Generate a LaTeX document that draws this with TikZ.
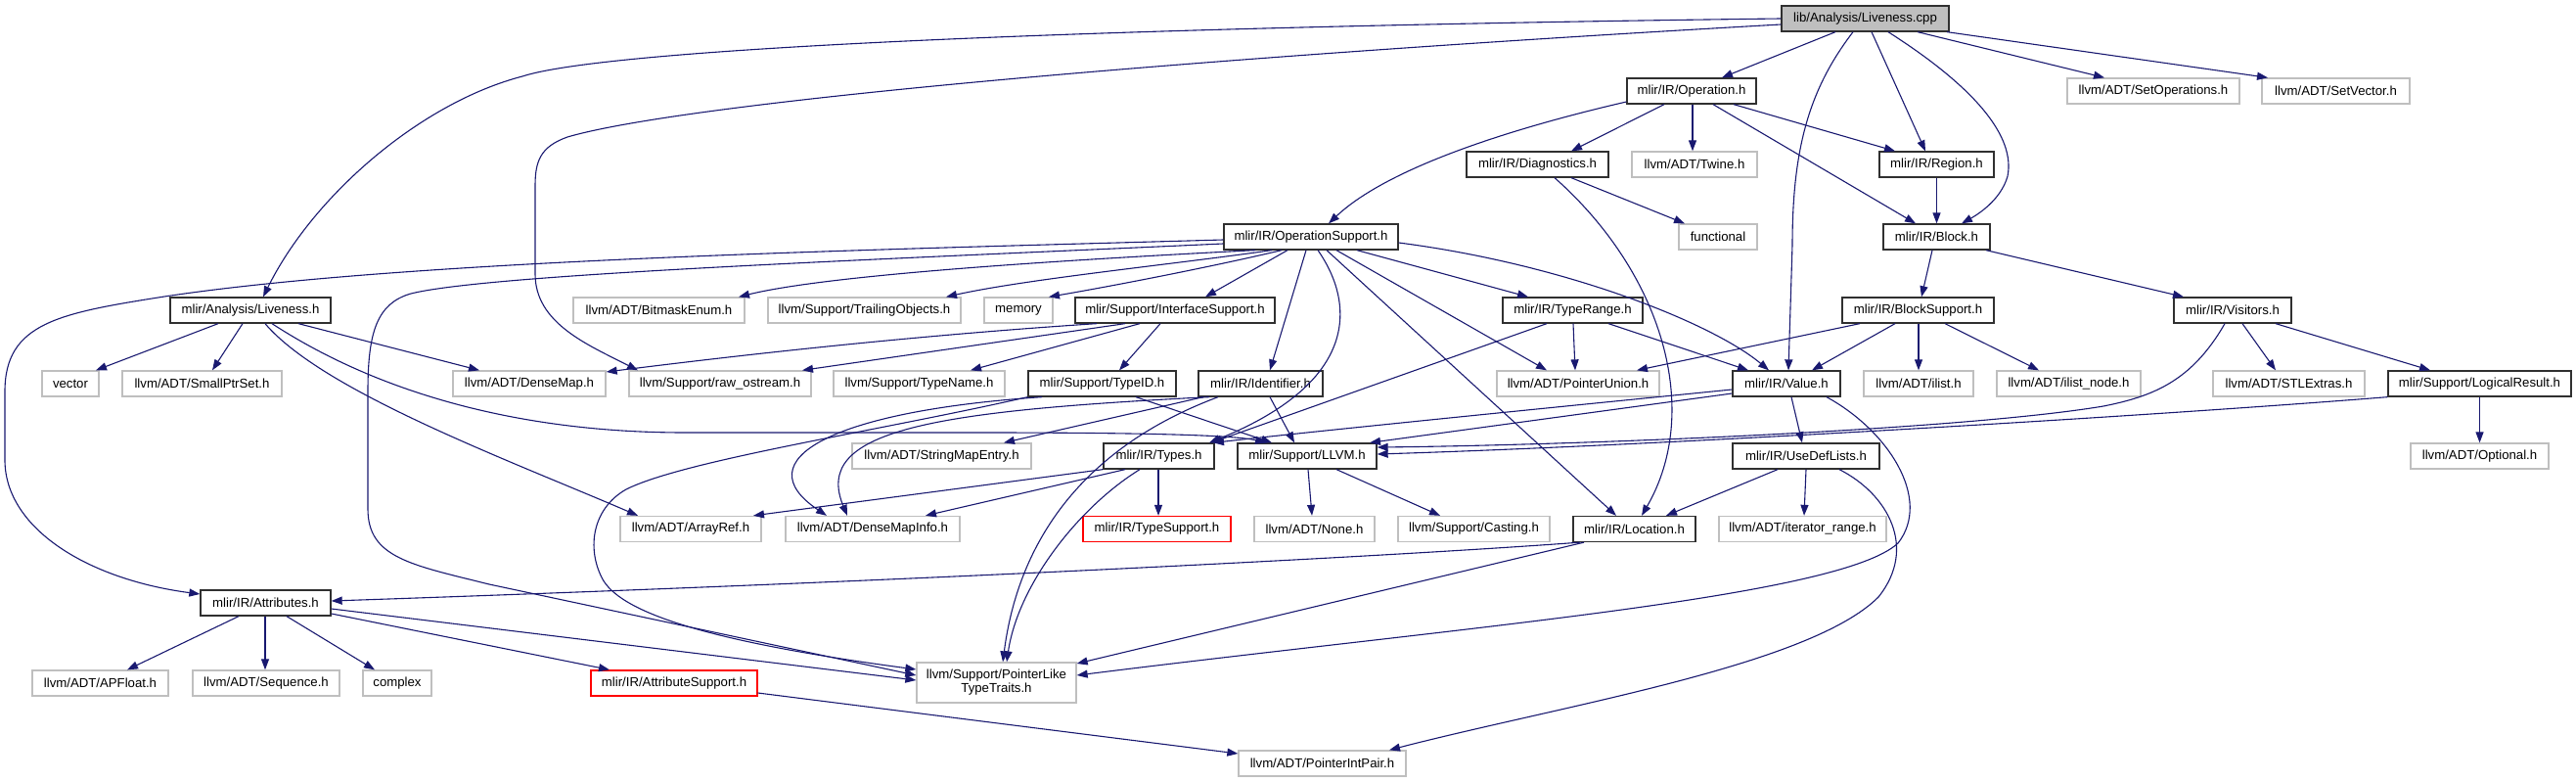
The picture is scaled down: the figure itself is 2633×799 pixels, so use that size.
\documentclass[tikz,border=0pt]{standalone}
\usepackage{fontspec}
\setmainfont{Liberation Sans}
\usetikzlibrary{arrows.meta}
\definecolor{edgec}{HTML}{191970}
\definecolor{grayb}{HTML}{BFBFBF}
\definecolor{docb}{HTML}{303030}
\tikzset{
  base/.style={draw, minimum height=26pt, inner sep=0pt, line width=1.3pt,
    font=\fontsize{13.2}{14}\selectfont, align=center},
  doc/.style={base, draw=docb},
  ext/.style={base, draw=grayb},
  redbox/.style={base, draw=red},
  rootbox/.style={base, draw=docb, fill=grayb},
  dep/.style={draw=edgec, line width=1.1pt, -{Triangle[length=11pt,width=8pt]}}
}
\begin{document}
\begin{tikzpicture}[x=1pt,y=-1pt]
\useasboundingbox (0,0) rectangle (2633,799);
% nodes
\node[rootbox, minimum width=171pt] (root) at (1906.5,19) {lib/Analysis/Liveness.cpp};
\node[doc, minimum width=132pt] (op) at (1729,93) {mlir/IR/Operation.h};
\node[ext, minimum width=176pt] (setops) at (2201,93) {llvm/ADT/SetOperations.h};
\node[ext, minimum width=151pt] (setvec) at (2387.5,93) {llvm/ADT/SetVector.h};
\node[doc, minimum width=145pt] (diag) at (1571.5,168) {mlir/IR/Diagnostics.h};
\node[ext, minimum width=128pt] (twine) at (1732,168) {llvm/ADT/Twine.h};
\node[doc, minimum width=117pt] (region) at (1979.5,168) {mlir/IR/Region.h};
\node[ext, minimum width=80pt] (functional) at (1756,242) {functional};
\node[doc, minimum width=109pt] (block) at (1979.5,242) {mlir/IR/Block.h};
\node[doc, minimum width=178pt] (opsup) at (1340,242) {mlir/IR/OperationSupport.h};
\node[doc, minimum width=164pt] (liveh) at (256,317) {mlir/Analysis/Liveness.h};
\node[ext, minimum width=175pt] (bitmask) at (673.5,317) {llvm/ADT/BitmaskEnum.h};
\node[ext, minimum width=197pt] (trailing) at (883.5,317) {llvm/Support/TrailingObjects.h};
\node[ext, minimum width=70pt] (memory) at (1041,317) {memory};
\node[doc, minimum width=204pt] (ifsup) at (1201,317) {mlir/Support/InterfaceSupport.h};
\node[doc, minimum width=143pt] (typerange) at (1607.5,317) {mlir/IR/TypeRange.h};
\node[doc, minimum width=155pt] (blocksup) at (1960.5,317) {mlir/IR/BlockSupport.h};
\node[doc, minimum width=120pt] (visitors) at (2282,317) {mlir/IR/Visitors.h};
\node[ext, minimum width=58pt] (vector) at (72,392) {vector};
\node[ext, minimum width=163pt] (smallptr) at (206.5,392) {llvm/ADT/SmallPtrSet.h};
\node[ext, minimum width=156pt] (densemap) at (541,392) {llvm/ADT/DenseMap.h};
\node[ext, minimum width=186pt] (rawos) at (736,392) {llvm/Support/raw\_ostream.h};
\node[ext, minimum width=175pt] (typename) at (939.5,392) {llvm/Support/TypeName.h};
\node[doc, minimum width=151pt] (typeid) at (1126.5,392) {mlir/Support/TypeID.h};
\node[doc, minimum width=127pt] (ident) at (1288.5,392) {mlir/IR/Identifier.h};
\node[ext, minimum width=166pt] (ptrunion) at (1613,392) {llvm/ADT/PointerUnion.h};
\node[doc, minimum width=110pt] (value) at (1826,392) {mlir/IR/Value.h};
\node[ext, minimum width=112pt] (ilist) at (1961,392) {llvm/ADT/ilist.h};
\node[ext, minimum width=147pt] (ilistnode) at (2114.5,392) {llvm/ADT/ilist\_node.h};
\node[ext, minimum width=155pt] (stlextras) at (2339.5,392) {llvm/ADT/STLExtras.h};
\node[doc, minimum width=187pt] (logres) at (2534.5,392) {mlir/Support/LogicalResult.h};
\node[ext, minimum width=183pt] (strmap) at (962.5,466) {llvm/ADT/StringMapEntry.h};
\node[doc, minimum width=113pt] (types) at (1184.5,466) {mlir/IR/Types.h};
\node[doc, minimum width=142pt] (llvmh) at (1336,466) {mlir/Support/LLVM.h};
\node[doc, minimum width=150pt] (usedef) at (1846,466) {mlir/IR/UseDefLists.h};
\node[ext, minimum width=141pt] (optional) at (2534.5,466) {llvm/ADT/Optional.h};
\node[ext, minimum width=144pt] (arrayref) at (706,540.5) {llvm/ADT/ArrayRef.h};
\node[ext, minimum width=178pt] (densemapinfo) at (892,540.5) {llvm/ADT/DenseMapInfo.h};
\node[redbox, minimum width=151pt] (typesup) at (1182.5,540.5) {mlir/IR/TypeSupport.h};
\node[ext, minimum width=123pt] (none) at (1343.5,540.5) {llvm/ADT/None.h};
\node[ext, minimum width=155pt] (casting) at (1506.5,540.5) {llvm/Support/Casting.h};
\node[doc, minimum width=125pt] (location) at (1670.5,540.5) {mlir/IR/Location.h};
\node[ext, minimum width=171pt] (iterrange) at (1842.5,540.5) {llvm/ADT/iterator\_range.h};
\node[doc, minimum width=133pt] (attrs) at (271.5,616) {mlir/IR/Attributes.h};
\node[ext, minimum width=139pt] (apfloat) at (102.5,698) {llvm/ADT/APFloat.h};
\node[ext, minimum width=150pt] (sequence) at (272,698) {llvm/ADT/Sequence.h};
\node[ext, minimum width=70pt] (complex) at (406,698) {complex};
\node[redbox, minimum width=170pt] (attrsup) at (689,698) {mlir/IR/AttributeSupport.h};
\node[ext, minimum width=163pt, minimum height=41pt] (pltt) at (1018.5,697.5) {llvm/Support/PointerLike\\TypeTraits.h};
\node[ext, minimum width=171pt] (ptrintpair) at (1351.5,780) {llvm/ADT/PointerIntPair.h};

% root
\draw[dep] (root.west) .. controls (1100,28) and (620,50) .. (534,78) .. controls (430,105) and (320,200) .. (liveh.north -| 269,0);
\draw[dep] (root.west |- 0,25) .. controls (1200,60) and (700,105) .. (580,140) .. controls (552,150) and (547,165) .. (547,190) -- (547,280) .. controls (547,330) and (600,352) .. (rawos.north -| 652,0);
\draw[dep] (root.south -| 1876,0) -- (op.north -| 1760,0);
\draw[dep] (root.south -| 1894,0) .. controls (1850,90) and (1832,150) .. (1832,250) -- (value.north -| 1828,0);
\draw[dep] (root.south -| 1913,0) -- (region.north -| 1968,0);
\draw[dep] (root.south -| 1930,0) .. controls (2020,90) and (2060,140) .. (2052,180) .. controls (2045,205) and (2020,220) .. (block.north -| 2005,0);
\draw[dep] (root.south -| 1960,0) -- (setops.north -| 2151,0);
\draw[dep] (root.south -| 1990,0) -- (setvec.north -| 2318,0);
% operation
\draw[dep] (op.west |- 0,104) .. controls (1550,130) and (1420,170) .. (opsup.north -| 1358,0);
\draw[dep] (op.south -| 1701,0) -- (diag.north -| 1606,0);
\draw[dep] (op.south -| 1730,0) -- (twine.north -| 1730,0);
\draw[dep] (op.south -| 1772,0) -- (region.north -| 1937,0);
\draw[dep] (op.south -| 1751,0) -- (block.north -| 1958,0);
% diagnostics
\draw[dep] (diag.south -| 1606,0) -- (functional.north -| 1722,0);
\draw[dep] (diag.south -| 1589,0) .. controls (1700,280) and (1740,420) .. (location.north -| 1678,0);
% region, block
\draw[dep] (region.south) -- (block.north);
\draw[dep] (block.south -| 1975,0) -- (blocksup.north -| 1964,0);
\draw[dep] (block.south -| 2030,0) -- (visitors.north -| 2232,0);
% operation support
\draw[dep] (opsup.west |- 0,245) .. controls (900,255) and (420,265) .. (168,303) .. controls (60,320) and (5,330) .. (5,400) -- (5,470) .. controls (5,540) and (90,592) .. (attrs.west |- 0,607);
\draw[dep] (opsup.west |- 0,249) .. controls (900,265) and (500,280) .. (420,300) .. controls (385,310) and (376,340) .. (376,400) -- (376,520) .. controls (376,570) and (420,577) .. (500,597) -- (pltt.west |- 0,690);
\draw[dep] (opsup.south -| 1283,0) .. controls (1100,265) and (850,280) .. (bitmask.north -| 755,0);
\draw[dep] (opsup.south -| 1300,0) .. controls (1200,270) and (1050,285) .. (trailing.north -| 967,0);
\draw[dep] (opsup.south -| 1310,0) .. controls (1250,270) and (1150,290) .. (memory.north -| 1072,0);
\draw[dep] (opsup.south -| 1316,0) -- (ifsup.north -| 1232,0);
\draw[dep] (opsup.south -| 1335,0) -- (ident.north -| 1298,0);
\draw[dep] (opsup.south -| 1347,0) .. controls (1385,310) and (1390,390) .. (types.north -| 1236,0);
\draw[dep] (opsup.south -| 1356,0) -- (location.north -| 1652,0);
\draw[dep] (opsup.south -| 1366,0) -- (ptrunion.north -| 1581,0);
\draw[dep] (opsup.south -| 1387,0) -- (typerange.north -| 1562,0);
\draw[dep] (opsup.east |- 0,248) .. controls (1600,270) and (1750,330) .. (value.north -| 1808,0);
% liveness.h
\draw[dep] (liveh.south -| 223,0) -- (vector.north -| 98,0);
\draw[dep] (liveh.south -| 248,0) -- (smallptr.north -| 217,0);
\draw[dep] (liveh.south -| 305,0) -- (densemap.north -| 490,0);
\draw[dep] (liveh.south -| 271,0) .. controls (330,400) and (520,470) .. (arrayref.north -| 652,0);
\draw[dep] (liveh.south -| 278,0) .. controls (400,410) and (550,442) .. (700,442) -- (1000,442) .. controls (1150,442) and (1260,444) .. (llvmh.north -| 1294,0);
% interface support
\draw[dep] (ifsup.south -| 1121,0) .. controls (900,345) and (700,370) .. (densemap.east |- 0,380);
\draw[dep] (ifsup.south -| 1150,0) -- (rawos.north -| 820,0);
\draw[dep] (ifsup.south -| 1165,0) -- (typename.north -| 992,0);
\draw[dep] (ifsup.south -| 1186,0) -- (typeid.north -| 1144,0);
% typeid
\draw[dep] (typeid.south -| 1161,0) -- (llvmh.north -| 1300,0);
\draw[dep] (typeid.south -| 1065,0) .. controls (850,420) and (760,470) .. (densemapinfo.north -| 845,0);
\draw[dep] (typeid.south west) .. controls (900,440) and (700,470) .. (640,500) .. controls (605,520) and (600,560) .. (615,590) .. controls (632,625) and (720,655) .. (pltt.west |- 0,684);
% identifier
\draw[dep] (ident.south -| 1230,0) -- (strmap.north -| 1026,0);
\draw[dep] (ident.south -| 1298,0) -- (llvmh.north -| 1323,0);
\draw[dep] (ident.south -| 1236,0) .. controls (950,420) and (830,440) .. (densemapinfo.north -| 866,0);
\draw[dep] (ident.south -| 1245,0) .. controls (1100,460) and (1040,560) .. (pltt.north -| 1025,0);
% types
\draw[dep] (types.south west) -- (arrayref.north -| 770,0);
\draw[dep] (types.south -| 1150,0) -- (densemapinfo.north -| 946,0);
\draw[dep] (types.south -| 1184,0) -- (typesup.north -| 1184,0);
\draw[dep] (types.south -| 1165,0) .. controls (1100,520) and (1040,600) .. (pltt.north -| 1029,0);
% llvm.h
\draw[dep] (llvmh.south -| 1337,0) -- (none.north -| 1341,0);
\draw[dep] (llvmh.south -| 1366,0) -- (casting.north -| 1472,0);
% value
\draw[dep] (value.west |- 0,402) -- (llvmh.north -| 1400,0);
\draw[dep] (value.west |- 0,398) .. controls (1600,415) and (1350,440) .. (types.north -| 1240,0);
\draw[dep] (value.south -| 1831,0) -- (usedef.north -| 1842,0);
\draw[dep] (value.south -| 1867,0) .. controls (1930,440) and (1975,510) .. (1940,555) .. controls (1880,610) and (1500,640) .. (pltt.east |- 0,690);
% usedef
\draw[dep] (usedef.south -| 1817,0) -- (location.north -| 1703,0);
\draw[dep] (usedef.south -| 1846,0) -- (iterrange.north -| 1844,0);
\draw[dep] (usedef.south -| 1880,0) .. controls (1930,505) and (1960,560) .. (1920,610) .. controls (1850,680) and (1600,720) .. (ptrintpair.north -| 1420,0);
% location
\draw[dep] (location.south -| 1615,0) .. controls (1400,570) and (900,595) .. (attrs.east |- 0,614);
\draw[dep] (location.south -| 1619,0) -- (pltt.east |- 0,678);
% visitors
\draw[dep] (visitors.south -| 2274,0) .. controls (2240,390) and (2200,405) .. (2150,415) .. controls (2000,440) and (1600,455) .. (llvmh.east |- 0,457);
\draw[dep] (visitors.south -| 2292,0) -- (stlextras.north -| 2326,0);
\draw[dep] (visitors.south -| 2326,0) -- (logres.north -| 2484,0);
% logical result
\draw[dep] (logres.south west) .. controls (2200,425) and (1700,455) .. (llvmh.east |- 0,464);
\draw[dep] (logres.south) -- (optional.north);
% block support
\draw[dep] (blocksup.south -| 1901,0) -- (ptrunion.north -| 1673,0);
\draw[dep] (blocksup.south -| 1937,0) -- (value.north -| 1852,0);
\draw[dep] (blocksup.south -| 1961,0) -- (ilist.north -| 1961,0);
\draw[dep] (blocksup.south -| 1988,0) -- (ilistnode.north -| 2084,0);
% type range
\draw[dep] (typerange.south -| 1581,0) -- (types.north -| 1238,0);
\draw[dep] (typerange.south -| 1608,0) -- (ptrunion.north -| 1610,0);
\draw[dep] (typerange.south -| 1644,0) -- (value.north -| 1787,0);
% attributes
\draw[dep] (attrs.south -| 244,0) -- (apfloat.north -| 130,0);
\draw[dep] (attrs.south -| 271,0) -- (sequence.north -| 271,0);
\draw[dep] (attrs.south -| 293,0) -- (complex.north -| 383,0);
\draw[dep] (attrs.east |- 0,627) -- (attrsup.north -| 623,0);
\draw[dep] (attrs.east |- 0,622) -- (pltt.west |- 0,695);
\draw[dep] (attrsup.east |- 0,708) -- (ptrintpair.west |- 0,770);
\end{tikzpicture}
\end{document}
